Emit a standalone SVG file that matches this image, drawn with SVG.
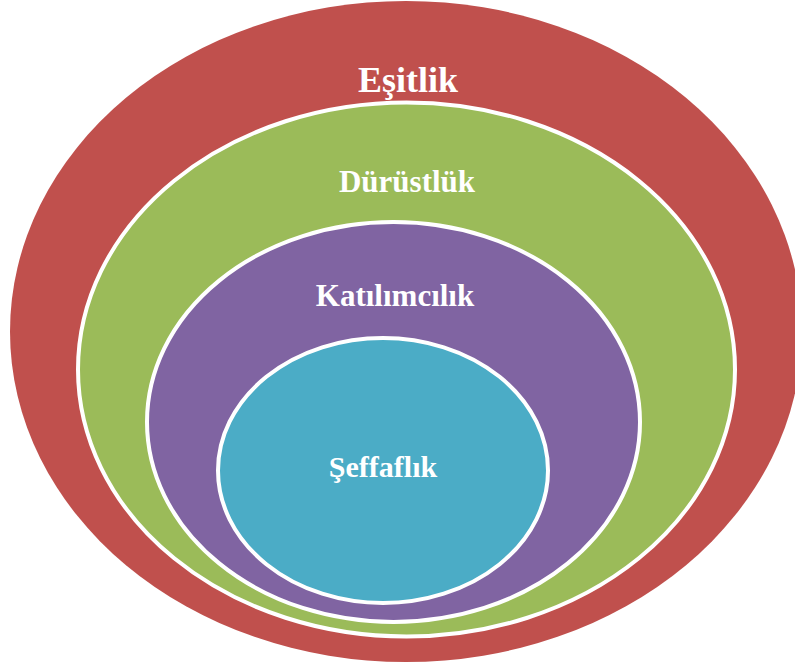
<svg xmlns="http://www.w3.org/2000/svg" width="795" height="666" viewBox="0 0 795 666">
<style>
.ring{stroke:#fff;stroke-width:4}
.lbl{font-family:"Liberation Serif","Times New Roman",serif;font-weight:bold;fill:#fff;text-anchor:middle}
</style>
<rect width="795" height="666" fill="#fff"/>
<g id="esitlik">
<ellipse cx="406" cy="331.5" rx="396" ry="330.5" fill="#C0504D"/>
<text class="lbl" x="408" y="92" font-size="36">Eşitlik</text>
</g>
<g id="durustluk">
<ellipse class="ring" cx="406.5" cy="369.5" rx="328.5" ry="267" fill="#9BBB59"/>
<text class="lbl" x="407" y="192" font-size="31">Dürüstlük</text>
</g>
<g id="katilimcilik">
<ellipse class="ring" cx="393.5" cy="422" rx="246.5" ry="200" fill="#8064A2"/>
<text class="lbl" x="395" y="306" font-size="31">Katılımcılık</text>
</g>
<g id="seffaflik">
<ellipse class="ring" cx="383" cy="470.5" rx="165" ry="132.5" fill="#4BACC6"/>
<text class="lbl" x="383" y="477" font-size="30">Şeffaflık</text>
</g>
<g id="connectors"/>
</svg>
